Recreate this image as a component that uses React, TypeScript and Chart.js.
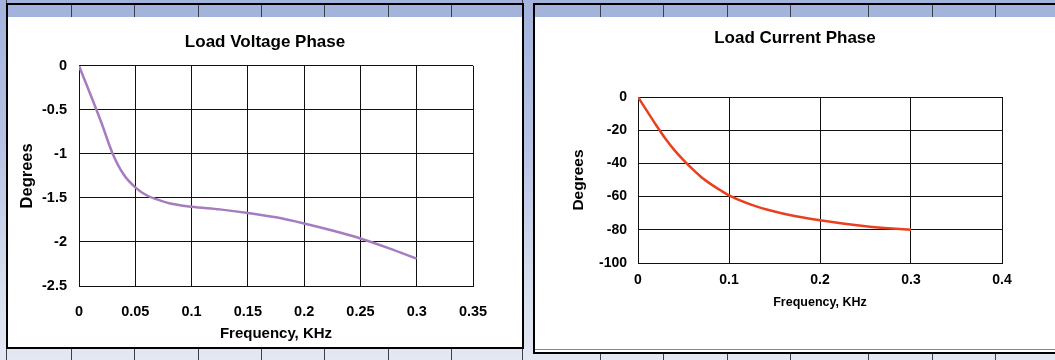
import React, { useEffect, useRef } from "react";
import { Chart, registerables } from "chart.js";

Chart.register(...registerables);

// ---- data ----
const voltFreq = [0, 0.01, 0.02, 0.03, 0.04, 0.05, 0.06, 0.07, 0.08, 0.1, 0.125, 0.15, 0.175, 0.2, 0.225, 0.25, 0.275, 0.3];
const voltPhase = [0, -0.32, -0.65, -1.0, -1.24, -1.38, -1.47, -1.52, -1.56, -1.6, -1.63, -1.67, -1.72, -1.79, -1.87, -1.96, -2.07, -2.19];

const currFreq = [0, 0.01, 0.02, 0.03, 0.04, 0.05, 0.06, 0.07, 0.08, 0.09, 0.1, 0.125, 0.15, 0.175, 0.2, 0.225, 0.25, 0.275, 0.3];
const currPhase = [0, -8.5, -17, -25, -32, -38, -43.5, -48.5, -52.5, -56, -59.3, -65, -69, -72, -74.3, -76.2, -77.8, -79, -80];

const voltTitle = "Load Voltage Phase";
const currTitle = "Load Current Phase";
const xTitle = "Frequency, KHz";
const yTitle = "Degrees";

// decorative spreadsheet column separators
const leftCols = [71, 134, 198, 261, 324, 388, 451];
const rightCols = [600, 663, 727, 790, 868, 932, 995];

const FONT = "'Liberation Sans', Arial, Helvetica, sans-serif";

const fmt = (v: any) => String(parseFloat(Number(v).toFixed(4)));

type Cfg = {
  xs: number[];
  ys: number[];
  color: string;
  title: string;
  titlePad: { top: number; bottom: number };
  xMin: number; xMax: number; xStep: number;
  yMin: number; yMax: number; yStep: number;
  tickSize: number;
  xTitleSize: number;
  yTitleSize: number;
  yWidth: number;
  xHeight: number;
  yTickPad: number;
  xTickPad: number;
  yTitlePad: number;
  xTitlePad: number;
  rightPad: number;
};

function PhaseChart({ cfg, width, height }: { cfg: Cfg; width: number; height: number }) {
  const ref = useRef<HTMLCanvasElement | null>(null);
  useEffect(() => {
    if (!ref.current) return;
    Chart.defaults.color = "#000";
    Chart.defaults.font.family = FONT;
    const chart = new Chart(ref.current, {
      type: "line",
      data: {
        datasets: [
          {
            data: cfg.xs.map((x, i) => ({ x, y: cfg.ys[i] })),
            borderColor: cfg.color,
            borderWidth: 2.5,
            pointRadius: 0,
            cubicInterpolationMode: "monotone",
            fill: false,
            xAxisID: "x",
            yAxisID: "y",
          },
        ],
      },
      options: {
        responsive: false,
        animation: false,
        devicePixelRatio: 1,
        layout: { padding: 0 },
        plugins: {
          legend: { display: false },
          tooltip: { enabled: false },
          title: {
            display: true,
            text: cfg.title,
            color: "#000",
            font: { size: 17, weight: "bold", family: FONT },
            padding: cfg.titlePad,
          },
        },
        scales: {
          x: {
            type: "linear",
            min: cfg.xMin,
            max: cfg.xMax,
            ticks: {
              stepSize: cfg.xStep,
              color: "#000",
              padding: cfg.xTickPad,
              font: { size: cfg.tickSize, weight: "bold", family: FONT },
              maxRotation: 0,
              callback: fmt,
            },
            grid: { color: "#111", lineWidth: 1, drawTicks: false },
            border: { color: "#111", width: 1 },
            title: {
              display: true,
              text: xTitle,
              color: "#000",
              font: { size: cfg.xTitleSize, weight: "bold", family: FONT },
              padding: { top: 0, bottom: cfg.xTitlePad },
            },
            afterFit: (s: any) => { s.height = cfg.xHeight; },
          },
          y: {
            type: "linear",
            min: cfg.yMin,
            max: cfg.yMax,
            ticks: {
              stepSize: cfg.yStep,
              color: "#000",
              padding: cfg.yTickPad,
              font: { size: cfg.tickSize, weight: "bold", family: FONT },
              callback: fmt,
            },
            grid: { color: "#111", lineWidth: 1, drawTicks: false },
            border: { color: "#111", width: 1 },
            title: {
              display: true,
              text: yTitle,
              color: "#000",
              font: { size: cfg.yTitleSize, weight: "bold", family: FONT },
              padding: { top: cfg.yTitlePad, bottom: 0 },
            },
            afterFit: (s: any) => { s.width = cfg.yWidth; },
          },
          // empty right-hand spacer axis so the title stays centred on the whole panel
          spacer: {
            type: "linear",
            position: "right",
            display: true,
            min: cfg.yMin,
            max: cfg.yMax,
            grid: { display: false, drawTicks: false },
            border: { display: false },
            ticks: { display: false },
            afterFit: (s: any) => { s.width = cfg.rightPad; },
          },
        },
      } as any,
    });
    return () => chart.destroy();
  }, []);
  return <canvas ref={ref} width={width} height={height} style={{ display: "block", width, height }} />;
}

const leftCfg: Cfg = {
  xs: voltFreq, ys: voltPhase, color: "#a67cc1", title: voltTitle,
  titlePad: { top: 14.8, bottom: 13.6 },
  xMin: 0, xMax: 0.35, xStep: 0.05,
  yMin: -2.5, yMax: 0, yStep: 0.5,
  tickSize: 14.5, xTitleSize: 15, yTitleSize: 16.5,
  yWidth: 71, xHeight: 61, yTickPad: 12, xTickPad: 17.3,
  yTitlePad: 9.1, xTitlePad: 4, rightPad: 49,
};

const rightCfg: Cfg = {
  xs: currFreq, ys: currPhase, color: "#e9401f", title: currTitle,
  titlePad: { top: 10.8, bottom: 48.8 },
  xMin: 0, xMax: 0.4, xStep: 0.1,
  yMin: -100, yMax: 0, yStep: 20,
  tickSize: 14, xTitleSize: 12.5, yTitleSize: 15.5,
  yWidth: 103, xHeight: 86, yTickPad: 11, xTickPad: 8.6,
  yTitlePad: 34.7, xTitlePad: 38.5, rightPad: 53,
};

function Sep({ x, top, h }: { x: number; top: number; h: number }) {
  return <div style={{ position: "absolute", left: x, top, width: 1, height: h, background: "#3a3f4a" }} />;
}

export default function App() {
  return (
    <div
      style={{
        position: "fixed", left: 0, top: 0, width: 1055, height: 360, overflow: "hidden",
        background: "linear-gradient(to bottom, #a3b3db 0%, #b6c3e4 40%, #d8dfee 80%, #e3e8f2 100%)",
      }}
    >
      {/* column lines outside panels */}
      <Sep x={6} top={0} h={360} />
      <Sep x={522} top={0} h={360} />
      {leftCols.map((x) => <Sep key={"lb" + x} x={x} top={349} h={11} />)}
      {rightCols.map((x) => <Sep key={"rb" + x} x={x} top={353} h={7} />)}

      {/* left panel */}
      <div style={{ position: "absolute", left: 6, top: 3, width: 518, height: 346, border: "2px solid #000", boxSizing: "border-box", background: "#fff" }}>
        <div style={{ position: "absolute", left: 0, top: 0, width: 514, height: 12, background: "#a3b3db" }} />
        {leftCols.map((x) => <Sep key={"lt" + x} x={x - 8} top={0} h={12} />)}
        <div style={{ position: "absolute", left: 0, top: 12 }}>
          <PhaseChart cfg={leftCfg} width={514} height={330} />
        </div>
      </div>

      {/* right panel */}
      <div style={{ position: "absolute", left: 533, top: 3, width: 540, height: 351, border: "2px solid #000", boxSizing: "border-box", background: "#fff" }}>
        <div style={{ position: "absolute", left: 0, top: 0, width: 536, height: 12, background: "#a3b3db" }} />
        {rightCols.map((x) => <Sep key={"rt" + x} x={x - 535} top={0} h={12} />)}
        <div style={{ position: "absolute", left: 0, top: 12 }}>
          <PhaseChart cfg={rightCfg} width={520} height={332} />
        </div>
        <div style={{ position: "absolute", left: 0, top: 344, width: 536, height: 1, background: "#888" }} />
      </div>
    </div>
  );
}
